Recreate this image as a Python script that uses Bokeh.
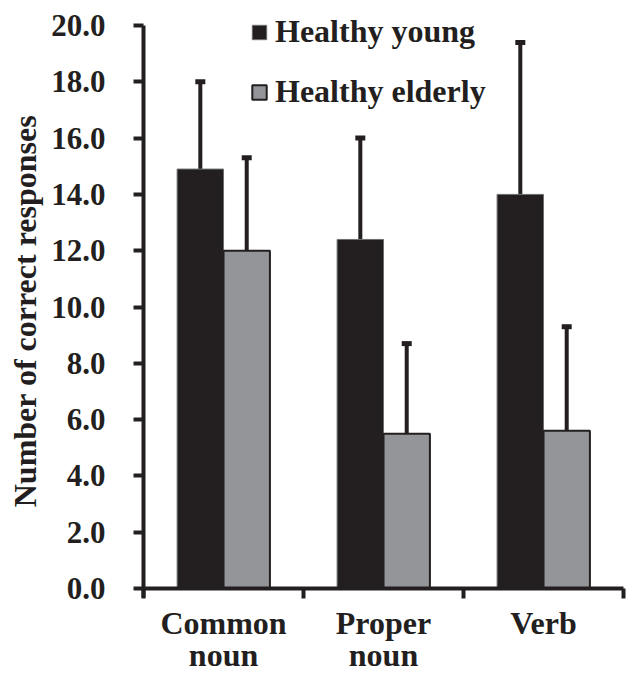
from bokeh.plotting import figure
from bokeh.models import (Range1d, FixedTicker, Whisker, TeeHead, ColumnDataSource,
                          Legend, LegendItem, NumeralTickFormatter, Label)
from bokeh.embed import file_html
from bokeh.resources import INLINE

categories = ["Common\nnoun", "Proper\nnoun", "Verb"]
series_names = ["Healthy young", "Healthy elderly"]
young = [14.9, 12.4, 14.0]
young_err = [3.1, 3.6, 5.4]
elderly = [12.0, 5.5, 5.6]
elderly_err = [3.3, 3.2, 3.7]
y_ticks = [0, 2, 4, 6, 8, 10, 12, 14, 16, 18, 20]
y_title = "Number of  correct responses"

FONT = "Liberation Serif"
DARK = "#231F20"
GREY = "#939598"
FS = "32px"

centers = [i + 0.5 for i in range(len(categories))]
offset = 0.145
bar_w = 0.29

src_y = ColumnDataSource(dict(
    x=[c - offset for c in centers], top=young,
    upper=[v + e for v, e in zip(young, young_err)]))
src_e = ColumnDataSource(dict(
    x=[c + offset for c in centers], top=elderly,
    upper=[v + e for v, e in zip(elderly, elderly_err)]))

# the frame covers the whole canvas; axes are placed at x = 0 and y = 0
p = figure(width=627, height=675, x_range=Range1d(-0.894, 3.025), y_range=Range1d(-3.09, 20.888),
           output_backend="svg", toolbar_location=None,
           min_border_left=0, min_border_right=0, min_border_top=0, min_border_bottom=0)
p.grid.visible = False
p.outline_line_color = None
p.background_fill_color = "white"

r1 = p.vbar(x="x", top="top", bottom=0, width=bar_w, source=src_y, fill_color=DARK, line_color="#6d6e70", line_width=1)
r2 = p.vbar(x="x", top="top", bottom=0, width=bar_w, source=src_e, fill_color=GREY, line_color=DARK, line_width=2)

for src in (src_y, src_e):
    w = Whisker(base="x", lower="top", upper="upper", source=src,
                line_color=DARK, line_width=4, lower_head=None,
                upper_head=TeeHead(size=10, line_width=5, line_color=DARK))
    p.add_layout(w)

# x axis at y = 0, ticks at category boundaries
xa = p.xaxis[0]
xa.fixed_location = 0
xa.bounds = (0, len(categories))
xa.ticker = FixedTicker(ticks=list(range(len(categories) + 1)))
xa.major_label_overrides = {i: "" for i in range(len(categories) + 1)}
xa.major_tick_out = 10
xa.major_tick_in = 0
xa.major_tick_line_width = 4
xa.major_tick_line_color = DARK
xa.minor_tick_line_color = None
xa.axis_line_width = 4
xa.axis_line_color = DARK

for c, cat in zip(centers, categories):
    for k, line in enumerate(cat.split("\n")):
        p.add_layout(Label(x=c, y=0, text=line, x_offset=0, y_offset=-34 - 32 * k,
                           text_align="center", text_baseline="alphabetic",
                           text_font=FONT, text_font_style="bold", text_font_size=FS,
                           text_color=DARK))

# y axis at x = 0
ya = p.yaxis[0]
ya.fixed_location = 0
ya.bounds = (-0.32, 20)
ya.ticker = FixedTicker(ticks=y_ticks)
ya.formatter = NumeralTickFormatter(format="0.0")
ya.major_tick_out = 10
ya.major_tick_in = 0
ya.minor_tick_line_color = None
ya.major_tick_line_width = 4
ya.major_tick_line_color = DARK
ya.axis_line_width = 4
ya.axis_line_color = DARK
ya.major_label_text_font = FONT
ya.major_label_text_font_style = "bold"
ya.major_label_text_font_size = "31px"
ya.major_label_text_color = DARK
ya.major_label_standoff = 28

p.add_layout(Label(x=-0.74, y=10, text=y_title, angle=90, angle_units="deg",
                   text_align="center", text_baseline="middle",
                   text_font=FONT, text_font_style="bold", text_font_size=FS,
                   text_color=DARK))

legend = Legend(items=[LegendItem(label=series_names[0], renderers=[r1]),
                       LegendItem(label=series_names[1], renderers=[r2])],
                location=(250, 565))
legend.glyph_width = 18
legend.glyph_height = 18
legend.label_text_font = FONT
legend.label_text_font_style = "bold"
legend.label_text_font_size = FS
legend.label_text_color = DARK
legend.label_standoff = 7
legend.spacing = 23
legend.padding = 0
legend.margin = 0
legend.background_fill_alpha = 0
legend.border_line_alpha = 0
p.add_layout(legend)

open("out.html", "w").write(file_html(p, INLINE))
